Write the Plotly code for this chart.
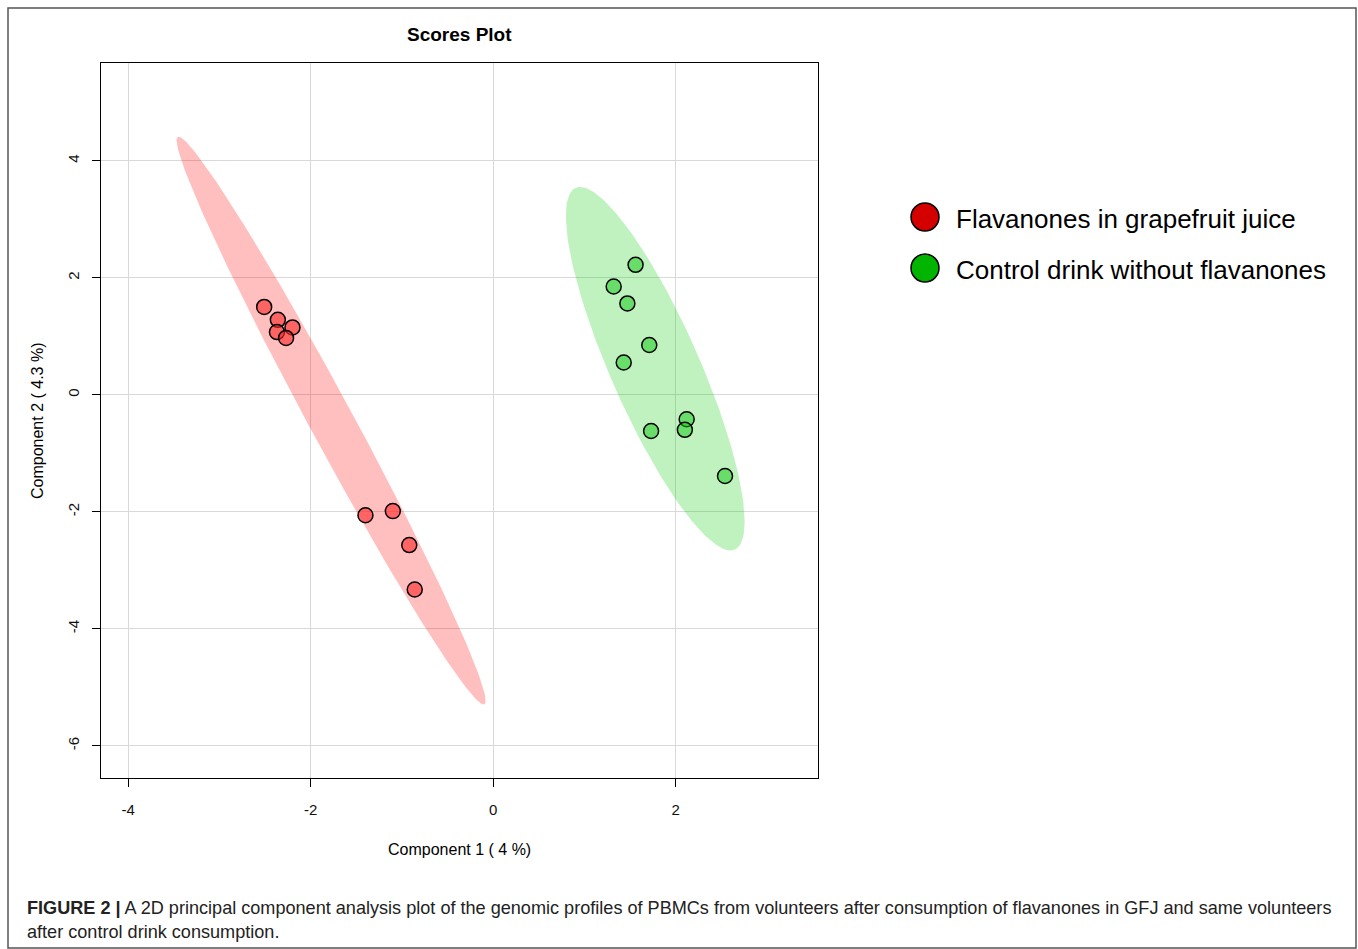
import numpy as np
import plotly.graph_objects as go

# ---- data ----
groups = ["Flavanones in grapefruit juice", "Control drink without flavanones"]
gfj_x = [-2.51, -2.36, -2.20, -2.37, -2.27, -1.40, -1.10, -0.92, -0.86]
gfj_y = [1.50, 1.28, 1.15, 1.07, 0.97, -2.06, -1.99, -2.57, -3.33]
ctl_x = [1.32, 1.56, 1.47, 1.71, 1.43, 2.12, 2.10, 1.73, 2.54]
ctl_y = [1.85, 2.22, 1.56, 0.85, 0.55, -0.42, -0.60, -0.62, -1.39]
x_ticks = [-4, -2, 0, 2]
y_ticks = [4, 2, 0, -2, -4, -6]
title = "Scores Plot"
x_title = "Component 1 ( 4 %)"
y_title = "Component 2 ( 4.3 %)"
caption = ("<b>FIGURE 2 |</b> A 2D principal component analysis plot of the genomic profiles of PBMCs "
           "from volunteers after consumption of flavanones in GFJ and same volunteers<br>"
           "after control drink consumption.")

W, H = 1358, 949
PL, PR, PT, PB = 101, 818, 63, 778
XR = [-4.298, 3.559]
YR = [-6.552, 5.670]
FONT = "Liberation Sans, Arial, sans-serif"


def conf_ellipse(x, y, chi2=5.991, n=200):
    x = np.asarray(x); y = np.asarray(y)
    cov = np.cov(x, y)
    vals, vecs = np.linalg.eigh(cov)
    t = np.linspace(0, 2 * np.pi, n)
    circ = np.vstack([np.cos(t), np.sin(t)])
    pts = vecs @ (np.sqrt(vals * chi2)[:, None] * circ)
    return pts[0] + x.mean(), pts[1] + y.mean()


fig = go.Figure()

ell_cols = ["rgba(255,0,0,0.25)", "rgba(0,205,0,0.25)"]
pt_cols = ["rgba(255,40,40,0.6)", "rgba(20,200,20,0.5)"]
leg_cols = ["#d40000", "#00b400"]

for (xs, ys), ec in zip([(gfj_x, gfj_y), (ctl_x, ctl_y)], ell_cols):
    ex, ey = conf_ellipse(xs, ys)
    fig.add_trace(go.Scatter(x=ex, y=ey, mode="lines", fill="toself",
                             fillcolor=ec, line=dict(width=0), hoverinfo="skip",
                             showlegend=False))

for (xs, ys), pc, name in zip([(gfj_x, gfj_y), (ctl_x, ctl_y)], pt_cols, groups):
    fig.add_trace(go.Scatter(x=xs, y=ys, mode="markers", name=name, showlegend=False,
                             marker=dict(size=15, color=pc,
                                         line=dict(color="black", width=1.5))))

# custom legend (large symbols) in paper coordinates
leg_px_x = 925
leg_px_y = [217, 268]
R = 14
for ly, g, c in zip(leg_px_y, groups, leg_cols):
    fig.add_shape(type="circle", xref="paper", yref="paper",
                  x0=(leg_px_x - R) / W, x1=(leg_px_x + R) / W,
                  y0=1 - (ly + R) / H, y1=1 - (ly - R) / H,
                  fillcolor=c, line=dict(color="black", width=1.5))
    fig.add_annotation(x=(leg_px_x + 29) / W, y=1 - (ly + 2) / H, xref="paper", yref="paper",
                       text=g, showarrow=False, xanchor="left", yanchor="middle",
                       font=dict(family=FONT, size=26, color="black"))

fig.update_layout(
    width=W, height=H,
    margin=dict(l=0, r=0, t=0, b=0),
    paper_bgcolor="white", plot_bgcolor="white",
    showlegend=False,
    xaxis=dict(domain=[PL / W, PR / W], range=XR, tickvals=x_ticks,
               ticktext=[str(v) for v in x_ticks],
               showgrid=True, gridcolor="#d9d9d9", gridwidth=1, zeroline=False,
               showline=True, linecolor="black", linewidth=1.3, mirror=True,
               ticks="outside", ticklen=8, tickcolor="black", tickwidth=1.3,
               ticklabelstandoff=10,
               tickfont=dict(family=FONT, size=15, color="#111"),
               automargin=False, fixedrange=True),
    yaxis=dict(domain=[1 - PB / H, 1 - PT / H], range=YR, tickvals=y_ticks,
               ticktext=[str(v) for v in y_ticks], tickangle=-90,
               showgrid=True, gridcolor="#d9d9d9", gridwidth=1, zeroline=False,
               showline=True, linecolor="black", linewidth=1.3, mirror=True,
               ticks="outside", ticklen=8, tickcolor="black", tickwidth=1.3,
               ticklabelstandoff=7,
               tickfont=dict(family=FONT, size=15, color="#111"),
               automargin=False, fixedrange=True),
)

# frame around the whole figure
fig.add_shape(type="rect", xref="paper", yref="paper",
              x0=8 / W, x1=1356 / W, y0=1 - 948 / H, y1=1 - 8 / H,
              line=dict(color="#555", width=1.5), fillcolor="rgba(0,0,0,0)", layer="below")

fig.add_annotation(x=(PL + PR) / 2 / W, y=1 - 34 / H, xref="paper", yref="paper",
                   text="<b>" + title + "</b>", showarrow=False, xanchor="center", yanchor="middle",
                   font=dict(family=FONT, size=19, color="black"))
fig.add_annotation(x=(PL + PR) / 2 / W, y=1 - 849 / H, xref="paper", yref="paper",
                   text=x_title, showarrow=False, xanchor="center", yanchor="middle",
                   font=dict(family=FONT, size=16, color="black"))
fig.add_annotation(x=37 / W, y=1 - 421 / H, xref="paper", yref="paper",
                   text=y_title, showarrow=False, textangle=-90, xanchor="center", yanchor="middle",
                   font=dict(family=FONT, size=16, color="black"))
fig.add_annotation(x=25 / W, y=1 - 920 / H, xref="paper", yref="paper",
                   text=caption, showarrow=False, xanchor="left", yanchor="middle", align="left",
                   font=dict(family=FONT, size=18.1, color="#222"))

fig.write_html("out.html", config={"displayModeBar": False},
               post_script="document.body.style.margin='0';document.body.style.overflow='hidden';")
